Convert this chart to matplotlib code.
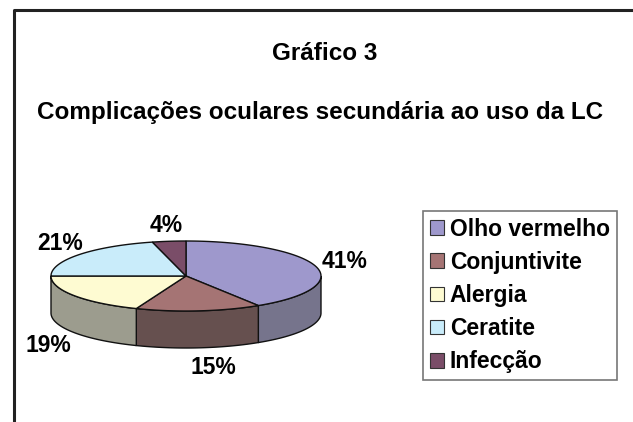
import numpy as np
import matplotlib.pyplot as plt
from matplotlib.patches import Polygon, Patch

plt.rcParams['font.family'] = ['Liberation Sans', 'DejaVu Sans']

labels = ["Olho vermelho", "Conjuntivite", "Alergia", "Ceratite", "Infecção"]
values = [41, 15, 19, 21, 4]
colors = ["#9e98cc", "#a57474", "#fefbd2", "#c9ecfa", "#7a4d68"]
side_colors = ["#76748c", "#66504f", "#9c9c8e", "#8aa0aa", "#5a4050"]

title = "Gráfico 3"
subtitle = "Complicações oculares secundária ao uso da LC"

fig = plt.figure(figsize=(6.33, 4.22), dpi=100)
ax = fig.add_axes([0, 0, 1, 1])
ax.set_xlim(0, 633)
ax.set_ylim(422, 0)
ax.axis("off")

# frame (open on right and bottom like the cropped original)
ax.plot([14, 14, 640], [430, 10, 10], color="#222222", linewidth=2.2, solid_capstyle="butt")

ax.text(325, 54, title, ha="center", va="center", fontsize=17.5, fontweight="bold")
ax.text(320, 113, subtitle, ha="center", va="center", fontsize=17.5, fontweight="bold")

# pseudo-3D pie
cx, cy = 186, 276
a, b = 135, 35
depth = 37

fracs = np.array(values) / sum(values)
ends = 90 - np.cumsum(fracs) * 360
starts = np.concatenate([[90], ends[:-1]])

# side walls (only the front half, angles between 180 and 360 deg)
for s, e, c in zip(starts, ends, side_colors):
    lo, hi = min(s, e), max(s, e)
    lo_m = lo % 360
    hi_m = lo_m + (hi - lo)
    t0, t1 = max(lo_m, 180), min(hi_m, 360)
    if t1 <= t0:
        continue
    th = np.radians(np.linspace(t0, t1, 60))
    xs = cx + a * np.cos(th)
    ys = cy - b * np.sin(th)
    pts = np.column_stack([np.concatenate([xs, xs[::-1]]),
                           np.concatenate([ys, ys[::-1] + depth])])
    ax.add_patch(Polygon(pts, closed=True, facecolor=c, edgecolor="#111111", linewidth=1.0))

# top faces
for s, e, c in zip(starts, ends, colors):
    th = np.radians(np.linspace(s, e, 80))
    xs = cx + a * np.cos(th)
    ys = cy - b * np.sin(th)
    pts = np.column_stack([np.concatenate([[cx], xs]), np.concatenate([[cy], ys])])
    ax.add_patch(Polygon(pts, closed=True, facecolor=c, edgecolor="#111111", linewidth=1.0))

# percentage labels
lab_pos = [(345, 261), (213, 368), (48, 346), (60, 243), (166, 226)]
for v, (lx, ly) in zip(values, lab_pos):
    ax.text(lx, ly, f"{v}%", ha="center", va="center", fontsize=16.5, fontweight="bold")

handles = [Patch(facecolor=c, edgecolor="#333333", linewidth=0.8) for c in colors]
leg = ax.legend(handles, labels, loc="upper left", bbox_to_anchor=(423 / 633, 1 - 211 / 422),
                frameon=True, fancybox=False, edgecolor="#555555",
                prop={"weight": "bold", "size": 16.5}, handlelength=0.62, handleheight=0.62,
                handletextpad=0.25, labelspacing=0.44, borderpad=0.3, borderaxespad=0)
leg.get_frame().set_linewidth(1.2)

fig.savefig("out.png", dpi=100, facecolor="white")
